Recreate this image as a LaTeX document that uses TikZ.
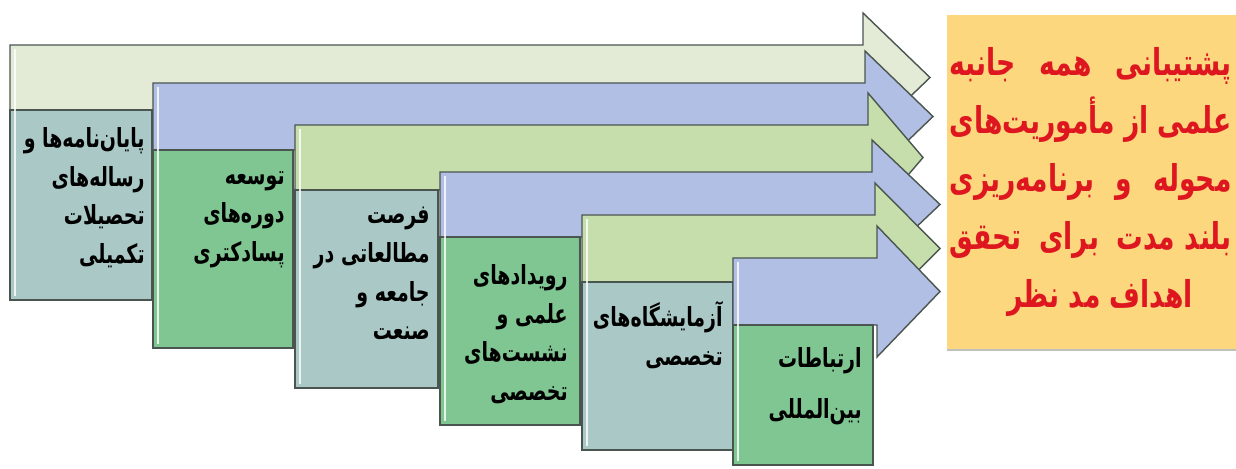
\documentclass[tikz,border=0pt]{standalone}
\usepackage{fontspec}
\newfontfamily\arabicfont[Script=Arabic, FakeStretch=0.72]{DejaVu Sans}
\newfontfamily\goalfont[Script=Arabic, FakeStretch=0.72]{DejaVu Sans}
\TeXXeTstate=1
\usepackage{tikz}
\usepackage{xcolor}
\definecolor{palegreen}{RGB}{227,235,214}
\definecolor{leafgreen}{RGB}{198,221,172}
\definecolor{skyblue}{RGB}{176,191,227}
\definecolor{sagebox}{RGB}{170,201,198}
\definecolor{mintbox}{RGB}{128,198,146}
\definecolor{goalyellow}{RGB}{253,215,126}
\definecolor{goalred}{RGB}{222,22,32}
\definecolor{edgegray}{RGB}{75,85,80}
\tikzset{%
    arrowline/.style={draw=edgegray, line width=0.8pt, line join=miter},
    boxtext/.style={%
        inner sep=0pt, align=right, anchor=north east,
        font=\arabicfont\bfseries\fontsize{15}{22}\selectfont
    },
    goaltext/.style={%
        inner sep=0pt, align=right, anchor=north east, text=goalred,
        font=\goalfont\bfseries\fontsize{21}{33}\selectfont
    }
}
% band colour, box colour, left, top, band bottom, box right, box bottom, head base, tip
\newcommand{\bentarrow}[9]{%
    \filldraw[arrowline, fill=#1] (#3,#4) -- (#8,#4) -- (#8,#4-32)
        -- (#9,{(#4+#5)/2}) -- (#8,#5+32) -- (#8,#5) -- (#3,#5) -- cycle;
    \filldraw[arrowline, fill=#2] (#3,#5) rectangle (#6,#7);
    \draw[white, line width=1.2pt, opacity=0.8] (#3+5,#4+4) -- (#3+5,#7-4);
}
\newcommand{\goalline}[1]{\hbox to 5.64cm{\beginR #1\endR}}

\begin{document}
\begin{tikzpicture}[x=0.02cm, y=-0.02cm]
    \useasboundingbox (0,0) rectangle (1236,468);
    \fill[goalyellow] (947,15) rectangle (1236,350);
    \draw[black!25, line width=1pt] (947,350) -- (1236,350);

    \bentarrow{palegreen}{sagebox}{10}{45}{110}{152}{300}{863}{930}
    \bentarrow{skyblue}{mintbox}{153}{83}{150}{293}{348}{865}{933}
    \bentarrow{leafgreen}{sagebox}{295}{125}{190}{438}{388}{868}{923}
    \bentarrow{skyblue}{mintbox}{440}{172}{237}{580}{425}{872}{940}
    \bentarrow{leafgreen}{sagebox}{582}{215}{282}{733}{450}{875}{940}
    \bentarrow{skyblue}{mintbox}{733}{258}{325}{873}{465}{877}{940}

    \node[boxtext] (thesis) at (145,127)
        {\beginR پایان‌نامه‌ها و\endR\\ \beginR رساله‌های\endR\\
         \beginR تحصیلات\endR\\ \beginR تکمیلی\endR};
    \node[boxtext] (postdoc) at (285,171)
        {\beginR توسعه\endR\\ \beginR دوره‌های\endR\\ \beginR پسادکتری\endR};
    \node[boxtext] (sabbatical) at (430,207)
        {\beginR فرصت\endR\\ \beginR مطالعاتی در\endR\\
         \beginR جامعه و\endR\\ \beginR صنعت\endR};
    \node[boxtext] (events) at (568,264)
        {\beginR رویدادهای\endR\\ \beginR علمی و\endR\\
         \beginR نشست‌های\endR\\ \beginR تخصصی\endR};
    \node[boxtext] (labs) at (723,301)
        {\beginR آزمایشگاه‌های\endR\\ \beginR تخصصی\endR};
    \node[boxtext] (intl) at (862,347)
        {\beginR ارتباطات\endR\\[0.25cm] \beginR بین‌المللی\endR};

    \node[goaltext] (support) at (1232,47)
        {\goalline{پشتیبانی \hfill همه \hfill جانبه}\\
         \goalline{علمی از مأموریت‌های}\\
         \goalline{محوله \hfill و \hfill برنامه‌ریزی}\\
         \goalline{بلند مدت \hfill برای \hfill تحقق}\\
         \hbox to 5.64cm{\hfill\beginR اهداف مد نظر\endR\hspace*{0.78cm}}};
\end{tikzpicture}
\end{document}
